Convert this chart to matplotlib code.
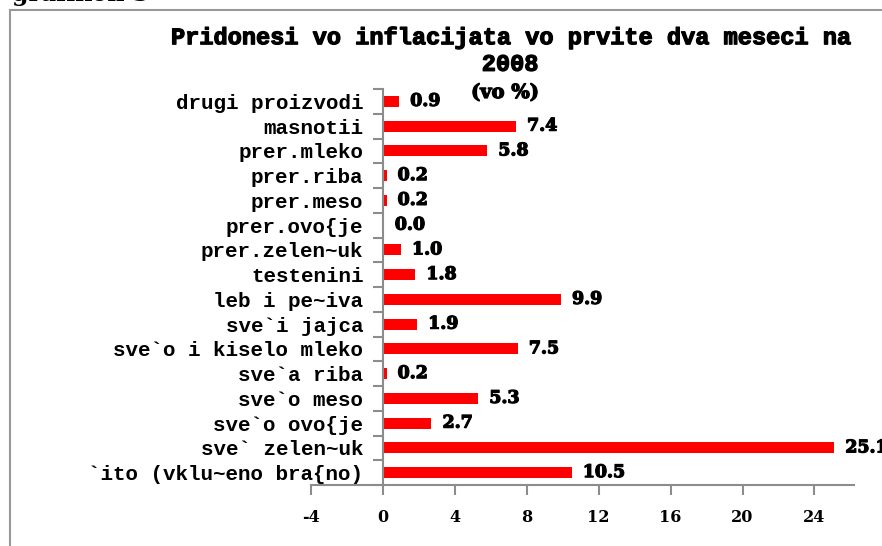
import matplotlib.pyplot as plt
import matplotlib.patheffects as pe
import numpy as np

# data, top to bottom as in the chart
categories = ["drugi proizvodi", "masnotii", "prer.mleko", "prer.riba",
              "prer.meso", "prer.ovo{je", "prer.zelen~uk", "testenini",
              "leb i pe~iva", "sve`i jajca", "sve`o i kiselo mleko",
              "sve`a riba", "sve`o meso", "sve`o ovo{je", "sve` zelen~uk",
              "`ito (vklu~eno bra{no)"]
values = [0.9, 7.4, 5.8, 0.2, 0.2, 0.045, 1.0, 1.8, 9.9, 1.9, 7.5, 0.2,
          5.3, 2.7, 25.1, 10.5]
x_ticks = [-4, 0, 4, 8, 12, 16, 20, 24]

title = "Pridonesi vo inflacijata vo prvite dva meseci na\n2008"
subtitle = "(vo %)"

mono = "Liberation Mono"
serif = "DejaVu Serif"
grey = "#8c8c8c"
heavy = [pe.withStroke(linewidth=0.9, foreground="black")]

fig = plt.figure(figsize=(8.82, 5.46), dpi=100)
ax = fig.add_axes([311 / 882, 61 / 546, 543 / 882, 396 / 546])

y = np.arange(len(categories))
ax.barh(y, values, height=0.45, color="#ff0000")

for yi, v in zip(y, values):
    ax.annotate(f"{v:.1f}", (v, yi), xytext=(8, 0), textcoords="offset points",
                va="center", ha="left", fontsize=12.5, fontweight="bold",
                family=serif, annotation_clip=False, path_effects=heavy)

ax.set_xlim(-4, 26.2)
ax.set_ylim(len(categories) - 0.5, -0.5)

# spines
for s in ["top", "right"]:
    ax.spines[s].set_visible(False)
ax.spines["left"].set_position(("data", 0))
ax.spines["left"].set_color(grey)
ax.spines["bottom"].set_color(grey)
ax.spines["left"].set_linewidth(1.5)
ax.spines["bottom"].set_linewidth(1.5)

# y ticks at category boundaries, labels at centres
ax.set_yticks(np.arange(-0.5, len(categories), 1))
ax.set_yticklabels([])
ax.set_yticks(y, minor=True)
ax.set_yticklabels(categories, minor=True, family=mono, fontweight="bold",
                   fontsize=15)
ax.tick_params(axis="y", which="major", length=7, color=grey, width=1.5)
ax.tick_params(axis="y", which="minor", length=0, pad=14)

ax.set_xticks(x_ticks)
ax.set_xticklabels([str(t) for t in x_ticks], family=serif,
                   fontweight="bold", fontsize=11.5)
ax.tick_params(axis="x", length=7, color=grey, width=1.5, pad=10)

# titles
fig.text(510 / 882, 1 - 51 / 546, title, ha="center", va="center",
         family=mono, fontweight="bold", fontsize=17, linespacing=1.2,
         path_effects=heavy)
fig.text(505 / 882, 1 - 93 / 546, subtitle, ha="center", va="center",
         family=serif, fontweight="bold", fontsize=14, path_effects=heavy)

# cut-off heading above the frame
fig.text(12 / 882, 1 - 0.5 / 546, "grafikon 3", ha="left", va="baseline",
         family=serif, fontweight="bold", fontsize=17)

# frame
fig.add_artist(plt.Line2D([10 / 882, 1], [1 - 10 / 546, 1 - 10 / 546],
                          transform=fig.transFigure, color="#999999", lw=1.5))
fig.add_artist(plt.Line2D([10 / 882, 10 / 882], [0, 1 - 10 / 546],
                          transform=fig.transFigure, color="#999999", lw=1.5))

fig.savefig("out.png", dpi=100)
